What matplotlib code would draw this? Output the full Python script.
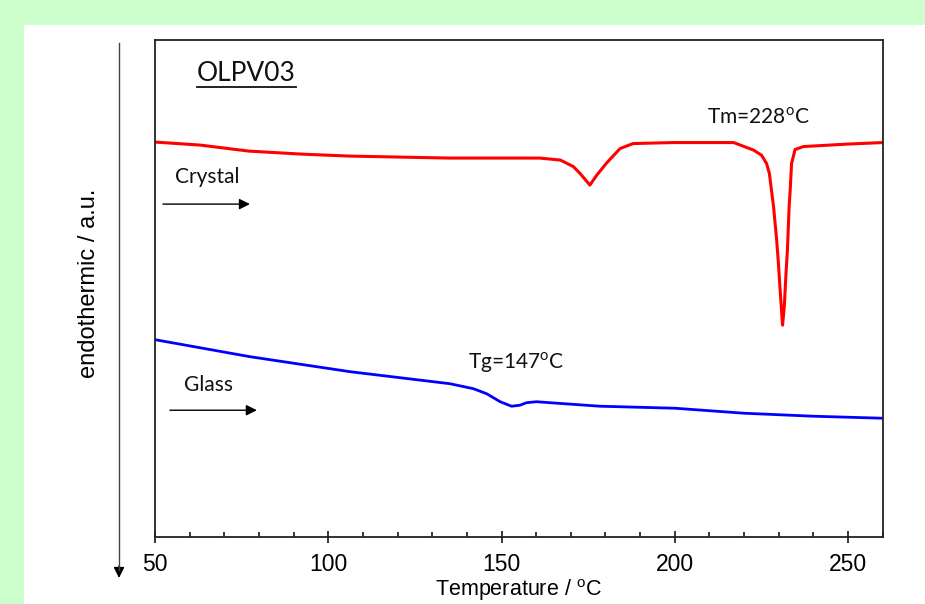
import matplotlib.pyplot as plt
from matplotlib.patches import Rectangle
from matplotlib.ticker import MultipleLocator

# DSC traces of OLPV03 (heat flow in arbitrary units, endothermic down)
crystal_t = [50, 63, 77, 92, 106, 135, 161, 167, 170.7, 172.7, 175.5, 177.5, 180.3,
             184.2, 188, 199.5, 217, 222.7, 225, 226.5, 227.3, 227.9, 228.5, 229.4,
             229.9, 230.4, 231.1, 231.6, 232.1, 232.5, 233.0, 233.3, 233.7, 234.7,
             237.1, 250, 260]
crystal_hf = [7.90, 7.84, 7.72, 7.66, 7.62, 7.58, 7.58, 7.54, 7.41, 7.27, 7.04, 7.24, 7.48,
              7.77, 7.87, 7.89, 7.89, 7.74, 7.64, 7.47, 7.27, 6.94, 6.61, 5.94,
              5.48, 4.94, 4.24, 4.61, 5.28, 5.74, 6.61, 6.94, 7.47, 7.75,
              7.81, 7.86, 7.89]

glass_t = [50, 77.4, 106.3, 135.1, 141.9, 145.7, 149.6, 152.9, 155.3, 157.2, 160.1,
           164, 178.4, 200, 220, 240, 260]
glass_hf = [3.95, 3.61, 3.31, 3.07, 2.97, 2.87, 2.71, 2.62, 2.64, 2.69, 2.71,
            2.69, 2.62, 2.58, 2.48, 2.42, 2.38]

xticks = [50, 100, 150, 200, 250]

plt.rcParams['mathtext.fontset'] = 'custom'
plt.rcParams['mathtext.rm'] = 'Lato'
plt.rcParams['mathtext.sf'] = 'Liberation Sans'

W, H = 925, 604
fig = plt.figure(figsize=(W / 100, H / 100), dpi=100)
fig.patch.set_facecolor('white')
# green frame on the left and top
fig.add_artist(Rectangle((0, 0), 24 / W, 1, transform=fig.transFigure,
                         facecolor='#ccffcc', edgecolor='none', zorder=0))
fig.add_artist(Rectangle((0, (H - 25) / H), 1, 25 / H, transform=fig.transFigure,
                         facecolor='#ccffcc', edgecolor='none', zorder=0))

ax = fig.add_axes([155 / W, (H - 537.3) / H, (882.7 - 155) / W, (537.3 - 40) / H])
ax.plot(crystal_t, crystal_hf, color='#ff0000', lw=2.2)
ax.plot(glass_t, glass_hf, color='#0000ff', lw=2.0)

ax.set_xlim(50, 260)
ax.set_ylim(0, (537 - 40) / 50)
ax.set_xticks(xticks)
ax.xaxis.set_minor_locator(MultipleLocator(10))
ax.set_yticks([])
ax.tick_params(axis='x', which='major', direction='inout', length=9, width=1.1,
               labelsize=16.5, pad=7)
ax.tick_params(axis='x', which='minor', direction='in', length=3.5, width=1.1)
for lab in ax.get_xticklabels():
    lab.set_family('Liberation Sans')
for s in ax.spines.values():
    s.set_linewidth(1.3)
    s.set_color('#222222')

# x label sits right at the bottom edge
fig.text(518 / W, 1 / H, 'Temperature / $^{\\mathsf{o}}\\mathsf{C}$', fontsize=15.5,
         family='Liberation Sans', ha='center', va='bottom')

# annotations
afont = dict(family='Lato', color='#111111')
title = ax.text(76.3, 9.28, 'OLPV03', fontsize=19, ha='center', va='center', **afont)
ax.text(224.0, 8.40, 'Tm=228$^{\\rm o}$C', fontsize=15, ha='center', va='center', **afont)
ax.text(154.2, 3.50, 'Tg=147$^{\\rm o}$C', fontsize=15, ha='center', va='center', **afont)
ax.text(65.0, 7.20, 'Crystal', fontsize=15, ha='center', va='center', **afont)
ax.text(65.3, 3.04, 'Glass', fontsize=15, ha='center', va='center', **afont)

arrow = dict(arrowstyle='-|>', lw=1.0, color='black', mutation_scale=16,
             shrinkA=0, shrinkB=0)
ax.annotate('', xy=(77.4, 6.66), xytext=(52.3, 6.66), arrowprops=arrow)
ax.annotate('', xy=(79.4, 2.54), xytext=(54.3, 2.54), arrowprops=arrow)

# underline the sample name
fig.canvas.draw()
bb = title.get_window_extent()
fig.add_artist(plt.Line2D([bb.x0 / W, bb.x1 / W], [(bb.y0 - 1) / H, (bb.y0 - 1) / H],
                          transform=fig.transFigure, color='#111111', lw=1.3))

# long y arrow and label outside axes
fig.add_artist(plt.Line2D([119 / W, 119 / W], [(H - 43) / H, (H - 570) / H],
                          transform=fig.transFigure, color='#444444', lw=1.0))
ax.annotate('', xy=(119 / W, (H - 578) / H), xytext=(119 / W, (H - 566) / H),
            xycoords='figure fraction', textcoords='figure fraction',
            arrowprops=dict(arrowstyle='-|>', lw=1.0, color='black',
                            mutation_scale=16, shrinkA=0, shrinkB=0))
fig.text(89 / W, (H - 283) / H, 'endothermic / a.u.', rotation=90, fontsize=17,
         family='Liberation Sans', ha='center', va='center')

fig.savefig('out.png', dpi=100, facecolor=fig.get_facecolor())
